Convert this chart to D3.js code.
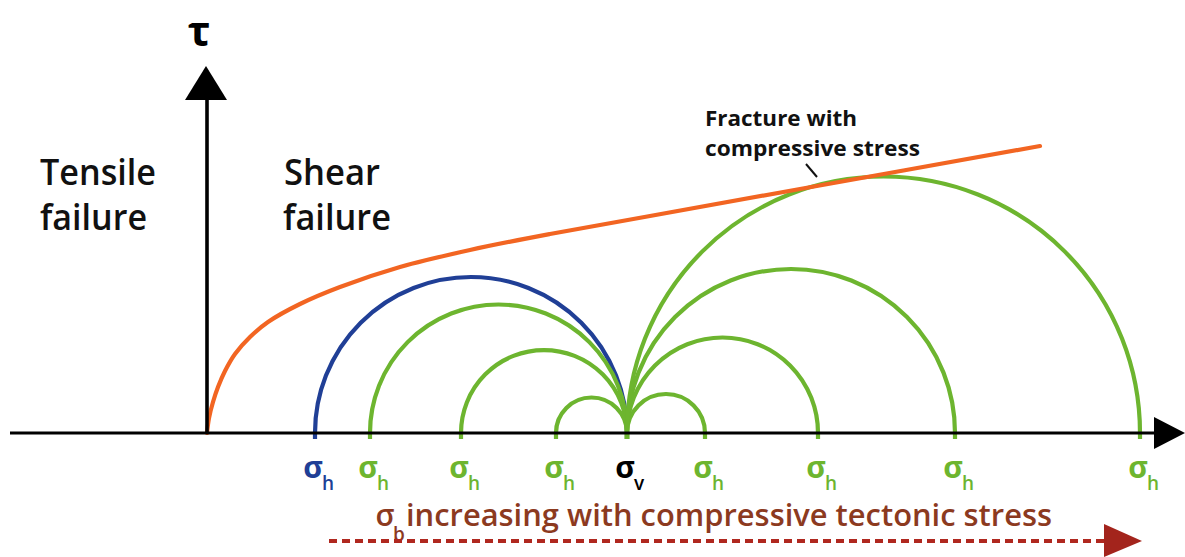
<!DOCTYPE html>
<html>
<head>
<meta charset="utf-8">
<script src="https://cdn.jsdelivr.net/npm/d3@7"></script>
<style>
  html, body { margin: 0; padding: 0; background: #ffffff; }
  svg { display: block; }
</style>
</head>
<body>
<svg id="chart" width="1185" height="557"></svg>
<script>
// ---------------- DATA ----------------
// Vertical stress (common point of all Mohr circles), in stress units
const sigmaV = 42;
// Horizontal stress values (each with sigmaV defines one Mohr circle)
const sigmaH = [10.8, 16.3, 25.4, 34.9, 49.8, 61.1, 74.8, 93.3];
// circle state: first one is the "critical" one (blue), others green
const circleState = ["critical", "stable", "stable", "stable", "stable", "stable", "stable", "stable"];
// Failure envelope (sigma, tau)
const envSigma = [0, 0.2, 0.6, 1.1, 1.8, 2.8, 4.3, 6.1, 9.3, 13.3, 19.3, 26.3, 34.3, 44.3, 59.3, 83.3];
const envTau   = [0, 1.5, 3.1, 4.6, 6.2, 7.9, 9.6, 11.1, 12.9, 14.6, 16.6, 18.3, 19.9, 21.7, 24.4, 28.7];
// Text labels
const regionLabels = [["Tensile", "failure"], ["Shear", "failure"]];
const envelopeLabel = ["Fracture with", "compressive stress"];
const bottomLabel = "increasing with compressive tectonic stress";

// ---------------- SETUP ----------------
const svg = d3.select("#chart");
const x = d3.scaleLinear().domain([0, 100]).range([207, 1207]);
const y = d3.scaleLinear().domain([0, 40]).range([433, 33]);
const color = d3.scaleOrdinal().domain(["critical", "stable"]).range(["#203f96", "#6db52f"]);
const y0 = y(0);

// ---------------- MOHR CIRCLES ----------------
const circles = sigmaH.map((s, i) => ({ s, state: circleState[i] }));
const order = circles.slice().sort((a, b) => (a.state === "critical" ? -1 : 1));
const tail = 6;
svg.append("g").selectAll("path.circle")
  .data(order)
  .join("path")
  .attr("class", "circle")
  .attr("fill", "none")
  .attr("stroke", d => color(d.state))
  .attr("stroke-width", 4.2)
  .attr("d", d => {
    const a = x(Math.min(d.s, sigmaV)), b = x(Math.max(d.s, sigmaV));
    const r = (b - a) / 2;
    return `M${a},${y0 + tail}L${a},${y0}A${r},${r} 0 0 1 ${b},${y0}L${b},${y0 + tail}`;
  });

// ---------------- FAILURE ENVELOPE ----------------
const env = envSigma.map((s, i) => [s, envTau[i]]);
svg.append("path")
  .datum(env)
  .attr("fill", "none")
  .attr("stroke", "#f26522")
  .attr("stroke-width", 4.2)
  .attr("stroke-linecap", "round")
  .attr("d", d3.line().x(d => x(d[0])).y(d => y(d[1])).curve(d3.curveCatmullRom.alpha(0.5)));

// ---------------- AXES ----------------
const axes = svg.append("g");
axes.append("line")
  .attr("x1", 10).attr("x2", 1160).attr("y1", y0).attr("y2", y0)
  .attr("stroke", "#000").attr("stroke-width", 3.2);
axes.append("path")
  .attr("d", `M1154,${y0 - 16}L1185,${y0}L1154,${y0 + 16}Z`)
  .attr("fill", "#000");
axes.append("line")
  .attr("x1", x(0)).attr("x2", x(0)).attr("y1", y0 + 1).attr("y2", 95)
  .attr("stroke", "#000").attr("stroke-width", 3.6);
axes.append("path")
  .attr("d", `M${x(0) - 22},100L${x(0) - 1},66L${x(0) + 20},100Z`)
  .attr("fill", "#000");

// tau label
svg.append("text")
  .attr("x", 199).attr("y", 46)
  .attr("text-anchor", "middle")
  .attr("font-family", "Open Sans, DejaVu Sans, sans-serif")
  .attr("font-weight", 700)
  .attr("font-size", 42)
  .attr("fill", "#000")
  .text("τ");

// ---------------- REGION LABELS ----------------
const regionPos = [{ x: 40, lens: [116, 107] }, { x: 284, lens: [96, 108] }];
regionLabels.forEach((lines, i) => {
  lines.forEach((t, j) => {
    svg.append("text")
      .attr("x", regionPos[i].x - (j === 1 && i === 1 ? 1 : 0))
      .attr("y", 185 + j * 45)
      .attr("font-family", "Open Sans, sans-serif")
      .attr("font-weight", 600)
      .attr("font-size", 36)
      .attr("textLength", regionPos[i].lens[j])
      .attr("lengthAdjust", "spacingAndGlyphs")
      .attr("fill", "#111")
      .text(t);
  });
});

// envelope label
const envLens = [152, 215];
envelopeLabel.forEach((t, j) => {
  svg.append("text")
    .attr("x", 705).attr("y", 126 + j * 30)
    .attr("font-family", "Open Sans, sans-serif")
    .attr("font-weight", 700)
    .attr("font-size", 22)
    .attr("textLength", envLens[j])
    .attr("lengthAdjust", "spacingAndGlyphs")
    .attr("fill", "#111")
    .text(t);
});
svg.append("line")
  .attr("x1", 806).attr("y1", 164).attr("x2", 817).attr("y2", 177)
  .attr("stroke", "#111").attr("stroke-width", 2);

// ---------------- SIGMA LABELS ----------------
const labels = circles.map(d => ({ s: d.s, sub: "h", fill: color(d.state) }))
  .concat([{ s: sigmaV, sub: "v", fill: "#000" }]);
const lg = svg.append("g").attr("font-family", "Open Sans, DejaVu Sans, sans-serif").attr("font-weight", 700);
lg.selectAll("text.sig")
  .data(labels).join("text")
  .attr("class", "sig")
  .attr("x", d => x(d.s) - 2).attr("y", 478)
  .attr("text-anchor", "middle")
  .attr("font-size", 30)
  .attr("fill", d => d.fill)
  .text("σ");
lg.selectAll("text.sub")
  .data(labels).join("text")
  .attr("class", "sub")
  .attr("x", d => x(d.s) + 7).attr("y", 490)
  .attr("font-size", 19)
  .attr("font-weight", 600)
  .attr("fill", d => d.fill)
  .text(d => d.sub);

// ---------------- BOTTOM ARROW ----------------
const brown = "#8c3a1f";
svg.append("text")
  .attr("x", 385).attr("y", 526)
  .attr("text-anchor", "middle")
  .attr("font-family", "Open Sans, DejaVu Sans, sans-serif")
  .attr("font-weight", 600)
  .attr("font-size", 30)
  .attr("fill", brown)
  .text("σ");
svg.append("text")
  .attr("x", 393).attr("y", 541)
  .attr("font-family", "Open Sans, sans-serif")
  .attr("font-weight", 600)
  .attr("font-size", 19)
  .attr("fill", brown)
  .text("b");
svg.append("text")
  .attr("x", 406).attr("y", 526)
  .attr("font-family", "Open Sans, sans-serif")
  .attr("font-weight", 600)
  .attr("font-size", 30)
  .attr("textLength", 646)
  .attr("lengthAdjust", "spacingAndGlyphs")
  .attr("fill", brown)
  .text(bottomLabel);
svg.append("line")
  .attr("x1", 329).attr("x2", 1106).attr("y1", 541).attr("y2", 541)
  .attr("stroke", "#b0281f").attr("stroke-width", 4)
  .attr("stroke-dasharray", "8 5");
svg.append("path")
  .attr("d", "M1104,524L1142,541L1104,557Z")
  .attr("fill", "#a3241c");
</script>
</body>
</html>
